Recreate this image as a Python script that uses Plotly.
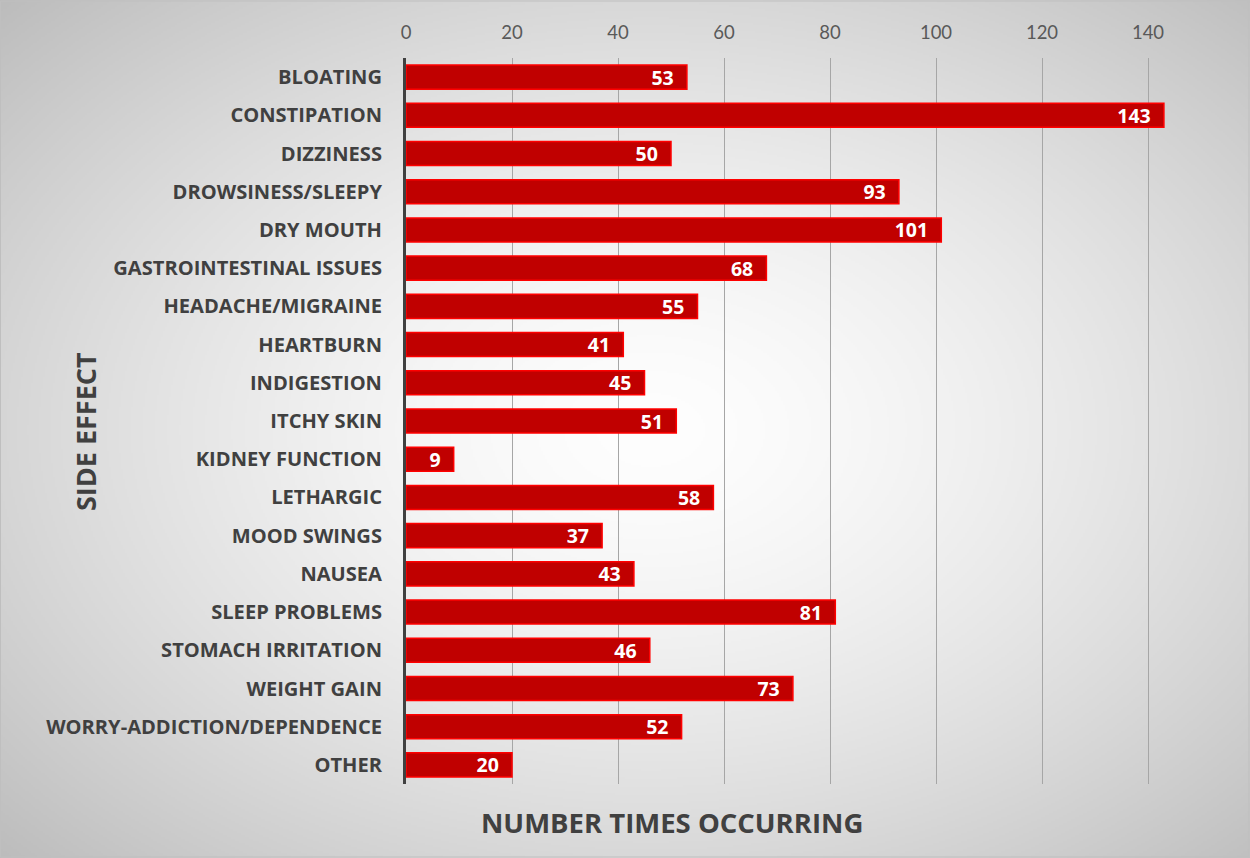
import base64, struct, zlib
import numpy as np
import plotly.graph_objects as go

categories = ["BLOATING", "CONSTIPATION", "DIZZINESS", "DROWSINESS/SLEEPY", "DRY MOUTH",
              "GASTROINTESTINAL ISSUES", "HEADACHE/MIGRAINE", "HEARTBURN", "INDIGESTION",
              "ITCHY SKIN", "KIDNEY FUNCTION", "LETHARGIC", "MOOD SWINGS", "NAUSEA",
              "SLEEP PROBLEMS", "STOMACH IRRITATION", "WEIGHT GAIN",
              "WORRY-ADDICTION/DEPENDENCE", "OTHER"]
counts = [53, 143, 50, 93, 101, 68, 55, 41, 45, 51, 9, 58, 37, 43, 81, 46, 73, 52, 20]
tick_vals = [0, 20, 40, 60, 80, 100, 120, 140]

W, H = 1250, 858
L, R, T, B = 406, 49, 58, 74

# radial gradient background as PNG
gw, gh = 625, 429
yy, xx = np.mgrid[0:gh, 0:gw]
cx, cy = 0.52 * gw, 0.50 * gh
d = np.sqrt(((xx - cx) / gw) ** 2 + ((yy - cy) / gh) ** 2) / np.sqrt(0.52**2 + 0.5**2)
img = np.clip(254 - 66 * d ** 1.5, 0, 255).astype(np.uint8)

def png_gray(a):
    h, w = a.shape
    raw = b"".join(b"\x00" + a[i].tobytes() for i in range(h))
    def chunk(t, data):
        c = struct.pack(">I", len(data)) + t + data
        return c + struct.pack(">I", zlib.crc32(t + data) & 0xffffffff)
    return (b"\x89PNG\r\n\x1a\n" + chunk(b"IHDR", struct.pack(">IIBBBBB", w, h, 8, 0, 0, 0, 0))
            + chunk(b"IDAT", zlib.compress(raw, 9)) + chunk(b"IEND", b""))

bg_uri = "data:image/png;base64," + base64.b64encode(png_gray(img)).decode()

pw, ph = W - L - R, H - T - B
BOLD = "Open Sans, sans-serif"

fig = go.Figure(go.Bar(
    x=counts, y=categories, orientation="h",
    marker=dict(color="#C00000", line=dict(color="#FF0000", width=1.5)),
    width=0.63,
    text=[f"{v}\u00a0\u00a0" for v in counts], textposition="inside", insidetextanchor="end",
    textangle=0, constraintext="none",
    textfont=dict(family=BOLD, size=19.5, color="white", weight="bold"),
    hoverinfo="x+y",
))

fig.update_layout(
    width=W, height=H,
    margin=dict(l=L, r=R, t=T, b=B),
    paper_bgcolor="rgba(0,0,0,0)", plot_bgcolor="rgba(0,0,0,0)",
    showlegend=False,
    images=[dict(source=bg_uri, xref="paper", yref="paper",
                 x=-L / pw, y=1 + T / ph, sizex=W / pw, sizey=H / ph,
                 sizing="stretch", layer="below", xanchor="left", yanchor="top")],
    xaxis=dict(side="top", range=[0, 150], tickvals=tick_vals, ticks="",
               showgrid=True, gridcolor="#a6a6a6", gridwidth=1, zeroline=False,
               tickfont=dict(family="Lato, sans-serif", size=18.5, color="#595959"),
               ticklabelstandoff=14, showline=False),
    yaxis=dict(autorange="reversed", ticks="", showline=True, linecolor="#404040", linewidth=3,
               tickfont=dict(family=BOLD, size=20.1, color="#404040", weight="bold"),
               ticklabelstandoff=17, showgrid=False),
    annotations=[
        dict(text="NUMBER TIMES OCCURRING", xref="paper", yref="paper",
             x=(672 - L) / pw, y=-(822 - (T + ph)) / ph, xanchor="center", yanchor="middle",
             showarrow=False, font=dict(family=BOLD, size=27.5, color="#404040", weight="bold")),
        dict(text="SIDE EFFECT", xref="paper", yref="paper", textangle=-90,
             x=(85 - L) / pw, y=1 - (432 - T) / ph, xanchor="center", yanchor="middle",
             showarrow=False, font=dict(family=BOLD, size=27, color="#404040", weight="bold")),
    ],
    shapes=[dict(type="rect", xref="paper", yref="paper", x0=-L / pw + 0.5 / pw, x1=1 + (R - 1) / pw,
                 y0=-(B - 1) / ph, y1=1 + (T - 1) / ph, line=dict(color="#bfbfbf", width=1), layer="below")],
)

fig.write_html("out.html")
